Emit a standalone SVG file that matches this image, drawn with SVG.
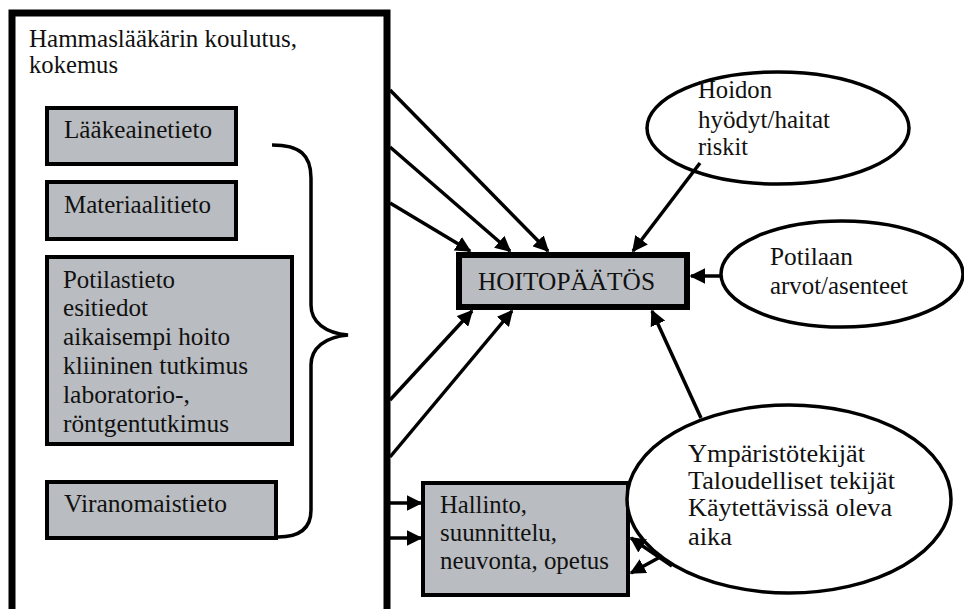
<svg xmlns="http://www.w3.org/2000/svg" width="964" height="609" viewBox="0 0 964 609">
<defs>
<style>
text{font-family:"Liberation Serif","Times New Roman",serif;font-size:25px;fill:#111}
.box{fill:#b9bcc0;stroke:#000;stroke-width:4}
.ell{fill:#fff;stroke:#000;stroke-width:3.5}
.con{stroke:#000;stroke-width:3.5;fill:none}
</style>
<marker id="ah" viewBox="0 0 10 10" refX="9" refY="5" markerWidth="4.5" markerHeight="4.5" orient="auto" markerUnits="strokeWidth">
<path d="M0,0 L10,5 L0,10 z" fill="#000"/>
</marker>
</defs>
<rect width="964" height="609" fill="#fff"/>
<g id="outer">
<rect x="12" y="13" width="375" height="610" fill="#fff" stroke="#000" stroke-width="7"/>
<text x="29" y="47" textLength="268" lengthAdjust="spacingAndGlyphs">Hammaslääkärin koulutus,</text>
<text x="29" y="73" textLength="89" lengthAdjust="spacingAndGlyphs">kokemus</text>
</g>
<g id="laakeainetieto">
<rect class="box" x="47" y="108" width="189" height="56"/>
<text x="64" y="138" textLength="148" lengthAdjust="spacingAndGlyphs">Lääkeainetieto</text>
</g>
<g id="materiaalitieto">
<rect class="box" x="47" y="182" width="189" height="57"/>
<text x="64" y="213" textLength="147" lengthAdjust="spacingAndGlyphs">Materiaalitieto</text>
</g>
<g id="potilastieto">
<rect class="box" x="47" y="257" width="245" height="187"/>
<text x="63" y="288" textLength="112" lengthAdjust="spacingAndGlyphs">Potilastieto</text>
<text x="63" y="316" textLength="85" lengthAdjust="spacingAndGlyphs">esitiedot</text>
<text x="63" y="345" textLength="167" lengthAdjust="spacingAndGlyphs">aikaisempi hoito</text>
<text x="63" y="374" textLength="185" lengthAdjust="spacingAndGlyphs">kliininen tutkimus</text>
<text x="63" y="403" textLength="127" lengthAdjust="spacingAndGlyphs">laboratorio-,</text>
<text x="63" y="432" textLength="166" lengthAdjust="spacingAndGlyphs">röntgentutkimus</text>
</g>
<g id="viranomaistieto">
<rect class="box" x="47" y="482" width="229" height="56"/>
<text x="64" y="512" textLength="163" lengthAdjust="spacingAndGlyphs">Viranomaistieto</text>
</g>
<g id="brace">
<path class="con" d="M272,145 C300,145 311,155 311,178 L311,305 C311,322 325,333 348,335 C325,337 311,348 311,365 L311,510 C311,528 300,537 278,537"/>
</g>
<g id="hoitopaatos">
<rect x="459" y="255" width="228" height="52" fill="#b9bcc0" stroke="#000" stroke-width="6"/>
<text x="478" y="290" textLength="177" lengthAdjust="spacingAndGlyphs">HOITOPÄÄTÖS</text>
</g>
<g id="hallinto">
<rect class="box" x="423" y="483" width="205" height="112"/>
<text x="440" y="513" textLength="87" lengthAdjust="spacingAndGlyphs">Hallinto,</text>
<text x="440" y="541" textLength="117" lengthAdjust="spacingAndGlyphs">suunnittelu,</text>
<text x="440" y="569" textLength="169" lengthAdjust="spacingAndGlyphs">neuvonta, opetus</text>
</g>
<g id="hoidon">
<ellipse class="ell" cx="778" cy="128" rx="131" ry="56"/>
<text x="698" y="98" textLength="74" lengthAdjust="spacingAndGlyphs">Hoidon</text>
<text x="698" y="128" textLength="132" lengthAdjust="spacingAndGlyphs">hyödyt/haitat</text>
<text x="698" y="155" textLength="50" lengthAdjust="spacingAndGlyphs">riskit</text>
</g>
<g id="potilaan">
<ellipse class="ell" cx="842" cy="274" rx="121" ry="53"/>
<text x="770" y="265" textLength="83" lengthAdjust="spacingAndGlyphs">Potilaan</text>
<text x="770" y="294" textLength="138" lengthAdjust="spacingAndGlyphs">arvot/asenteet</text>
</g>
<g id="ymparisto">
<ellipse class="ell" cx="789" cy="499" rx="162" ry="94"/>
<text x="688" y="462" textLength="177" lengthAdjust="spacingAndGlyphs">Ympäristötekijät</text>
<text x="688" y="489" textLength="207" lengthAdjust="spacingAndGlyphs">Taloudelliset tekijät</text>
<text x="688" y="516" textLength="204" lengthAdjust="spacingAndGlyphs">Käytettävissä oleva</text>
<text x="688" y="545" textLength="44" lengthAdjust="spacingAndGlyphs">aika</text>
</g>
<g id="connectors">
<line class="con" x1="390" y1="90" x2="548" y2="251" marker-end="url(#ah)"/>
<line class="con" x1="390" y1="147" x2="510" y2="251" marker-end="url(#ah)"/>
<line class="con" x1="390" y1="203" x2="470" y2="251" marker-end="url(#ah)"/>
<line class="con" x1="700" y1="163" x2="633" y2="251" marker-end="url(#ah)"/>
<line class="con" x1="390" y1="400" x2="472" y2="311" marker-end="url(#ah)"/>
<line class="con" x1="390" y1="457" x2="512" y2="311" marker-end="url(#ah)"/>
<line class="con" x1="701" y1="418" x2="652" y2="311" marker-end="url(#ah)"/>
<line class="con" x1="721" y1="276" x2="691" y2="276" marker-end="url(#ah)"/>
<line class="con" x1="390" y1="503" x2="421" y2="503" marker-end="url(#ah)"/>
<line class="con" x1="390" y1="538" x2="421" y2="538" marker-end="url(#ah)"/>
<line class="con" x1="672" y1="566" x2="631" y2="538" marker-end="url(#ah)"/>
<line class="con" x1="662" y1="556" x2="631" y2="573" marker-end="url(#ah)"/>
</g>
</svg>
